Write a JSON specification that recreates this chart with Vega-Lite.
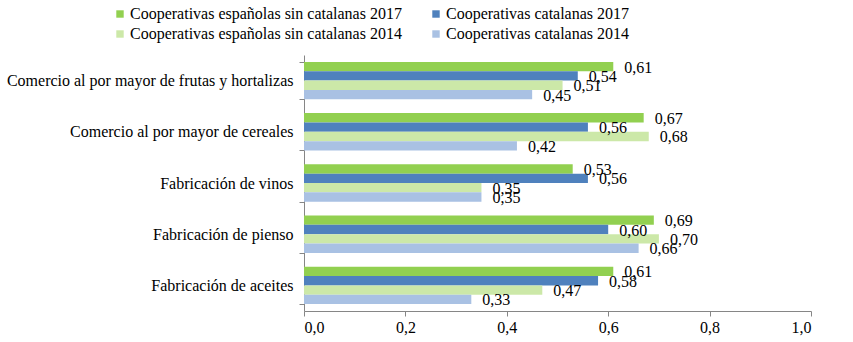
{
  "$schema": "https://vega.github.io/schema/vega-lite/v6.json",
  "autosize": {"type": "none"},
  "width": 507,
  "height": 256,
  "padding": {"left": 304, "top": 55, "right": 42, "bottom": 31},
  "background": "white",
  "config": {
    "locale": {"number": {"decimal": ",", "thousands": ".", "grouping": [3], "currency": ["", " €"]}},
    "view": {"stroke": null},
    "axis": {"labelFont": "Liberation Serif", "labelFontSize": 16, "labelColor": "#000000", "domainColor": "#868686", "tickColor": "#868686", "grid": false, "title": null}
  },
  "data": {
    "values": [
      {"cat": "Comercio al por mayor de frutas y hortalizas", "serie": "Cooperativas españolas sin catalanas 2017", "v": 0.61},
      {"cat": "Comercio al por mayor de frutas y hortalizas", "serie": "Cooperativas catalanas 2017", "v": 0.54},
      {"cat": "Comercio al por mayor de frutas y hortalizas", "serie": "Cooperativas españolas sin catalanas 2014", "v": 0.51},
      {"cat": "Comercio al por mayor de frutas y hortalizas", "serie": "Cooperativas catalanas 2014", "v": 0.45},
      {"cat": "Comercio al por mayor de cereales", "serie": "Cooperativas españolas sin catalanas 2017", "v": 0.67},
      {"cat": "Comercio al por mayor de cereales", "serie": "Cooperativas catalanas 2017", "v": 0.56},
      {"cat": "Comercio al por mayor de cereales", "serie": "Cooperativas españolas sin catalanas 2014", "v": 0.68},
      {"cat": "Comercio al por mayor de cereales", "serie": "Cooperativas catalanas 2014", "v": 0.42},
      {"cat": "Fabricación de vinos", "serie": "Cooperativas españolas sin catalanas 2017", "v": 0.53},
      {"cat": "Fabricación de vinos", "serie": "Cooperativas catalanas 2017", "v": 0.56},
      {"cat": "Fabricación de vinos", "serie": "Cooperativas españolas sin catalanas 2014", "v": 0.35},
      {"cat": "Fabricación de vinos", "serie": "Cooperativas catalanas 2014", "v": 0.35},
      {"cat": "Fabricación de pienso", "serie": "Cooperativas españolas sin catalanas 2017", "v": 0.69},
      {"cat": "Fabricación de pienso", "serie": "Cooperativas catalanas 2017", "v": 0.60},
      {"cat": "Fabricación de pienso", "serie": "Cooperativas españolas sin catalanas 2014", "v": 0.70},
      {"cat": "Fabricación de pienso", "serie": "Cooperativas catalanas 2014", "v": 0.66},
      {"cat": "Fabricación de aceites", "serie": "Cooperativas españolas sin catalanas 2017", "v": 0.61},
      {"cat": "Fabricación de aceites", "serie": "Cooperativas catalanas 2017", "v": 0.58},
      {"cat": "Fabricación de aceites", "serie": "Cooperativas españolas sin catalanas 2014", "v": 0.47},
      {"cat": "Fabricación de aceites", "serie": "Cooperativas catalanas 2014", "v": 0.33}
    ]
  },
  "encoding": {
    "y": {
      "field": "cat", "type": "nominal",
      "sort": ["Comercio al por mayor de frutas y hortalizas", "Comercio al por mayor de cereales", "Fabricación de vinos", "Fabricación de pienso", "Fabricación de aceites"],
      "scale": {"paddingInner": 0.27, "paddingOuter": 0.135},
      "axis": {"tickBand": "extent", "tickSize": 5, "labelPadding": 6, "labelLimit": 400, "labelFont": "Liberation Serif", "labelFontSize": 16}
    },
    "yOffset": {
      "field": "serie", "type": "nominal",
      "sort": ["Cooperativas españolas sin catalanas 2017", "Cooperativas catalanas 2017", "Cooperativas españolas sin catalanas 2014", "Cooperativas catalanas 2014"],
      "scale": {"paddingInner": 0, "paddingOuter": 0}
    },
    "x": {
      "field": "v", "type": "quantitative",
      "scale": {"domain": [0, 1], "nice": false},
      "axis": {"values": [0, 0.2, 0.4, 0.6, 0.8, 1.0], "format": ".1f", "tickSize": 5, "labelPadding": 3, "labelFont": "Liberation Serif", "labelFontSize": 16}
    }
  },
  "layer": [
    {
      "mark": {"type": "bar"},
      "encoding": {
        "color": {
          "field": "serie", "type": "nominal",
          "scale": {
            "domain": ["Cooperativas españolas sin catalanas 2017", "Cooperativas españolas sin catalanas 2014", "Cooperativas catalanas 2017", "Cooperativas catalanas 2014"],
            "range": ["#92d050", "#cce8a8", "#4f81bd", "#a9c1e3"]
          },
          "legend": {
            "orient": "none", "legendX": -192, "legendY": -49,
            "title": null, "columns": 2, "columnPadding": 26, "rowPadding": 4,
            "symbolType": "square", "symbolSize": 55, "symbolStrokeWidth": 0,
            "labelFont": "Liberation Serif", "labelFontSize": 16, "labelColor": "#000000",
            "labelOffset": 2, "labelLimit": 400
          }
        }
      }
    },
    {
      "mark": {"type": "text", "align": "left", "baseline": "middle", "dx": 11, "dy": 1, "font": "Liberation Serif", "fontSize": 16, "color": "#000000"},
      "encoding": {
        "text": {"field": "v", "type": "quantitative", "format": ".2f"}
      }
    }
  ]
}
